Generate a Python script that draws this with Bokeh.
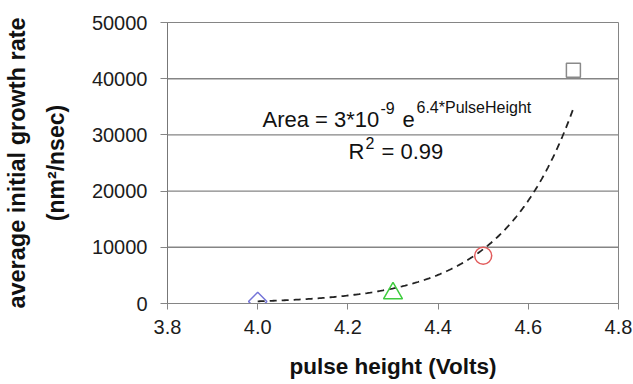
import numpy as np
from bokeh.plotting import figure
from bokeh.models import Range1d, FixedTicker, NumeralTickFormatter, LinearAxis, Label
from bokeh.embed import file_html
from bokeh.resources import INLINE

# Measured points: pulse height (V) vs average initial growth rate (nm^2/nsec)
pulse_height = [4.0, 4.3, 4.5, 4.7]
growth_rate = [350, 1800, 8500, 41500]
marker_shapes = ["diamond", "triangle", "circle", "square"]
marker_colors = ["#7474d8", "#3fcc3f", "#e25c5c", "#8a8a8a"]

# Exponential fit: Area = 3e-9 * exp(6.4 * PulseHeight), R^2 = 0.99
fit_coef = 3e-9
fit_exp = 6.4
fit_r2 = 0.99

x_ticks = [3.8, 4.0, 4.2, 4.4, 4.6, 4.8]
y_ticks = [0, 10000, 20000, 30000, 40000, 50000]

W, H = 633, 384
LEFT, RIGHT, TOP, BOTTOM = 167, 618, 22, 303
FONT = "Liberation Sans"
GRID = "#858585"
TEXT = "#1c1c1c"

p = figure(width=W, height=H, output_backend="svg", toolbar_location=None,
           x_range=Range1d(x_ticks[0], x_ticks[-1]),
           y_range=Range1d(y_ticks[0], y_ticks[-1]),
           min_border_left=LEFT, min_border_right=W - RIGHT,
           min_border_top=TOP, min_border_bottom=H - BOTTOM)
p.background_fill_color = "white"
p.border_fill_color = "white"
p.outline_line_color = GRID
p.outline_line_width = 1

p.xgrid.visible = False
p.ygrid.visible = False

x0, x1 = x_ticks[0], x_ticks[-1]
# horizontal rules at the inner y ticks
inner = y_ticks[1:-1]
p.multi_line([[x0, x1] for _ in inner], [[t, t] for t in inner],
             line_color=GRID, line_width=1.4)

# x axis
xa = p.xaxis[0]
xa.ticker = FixedTicker(ticks=x_ticks)
xa.formatter = NumeralTickFormatter(format="0.0")
xa.axis_line_color = GRID
xa.major_tick_line_color = GRID
xa.major_tick_in = 0
xa.major_tick_out = 6
xa.minor_tick_line_color = None
xa.major_label_standoff = 10
xa.major_label_text_font = FONT
xa.major_label_text_font_size = "20px"
xa.major_label_text_color = TEXT
xa.axis_label = "pulse height (Volts)"
xa.axis_label_text_font = FONT
xa.axis_label_text_font_style = "bold"
xa.axis_label_text_font_size = "22.5px"
xa.axis_label_text_color = "#111111"
xa.axis_label_standoff = 17

# y axis (inner line of the title)
ya = p.yaxis[0]
ya.ticker = FixedTicker(ticks=y_ticks)
ya.formatter = NumeralTickFormatter(format="0")
ya.axis_line_color = "#777777"
ya.major_tick_line_color = GRID
ya.major_tick_in = 0
ya.major_tick_out = 7
ya.minor_tick_line_color = None
ya.major_label_standoff = 13
ya.major_label_text_font = FONT
ya.major_label_text_font_size = "20px"
ya.major_label_text_color = TEXT
ya.axis_label = "(nm\u00b2/nsec)"
ya.axis_label_text_font = FONT
ya.axis_label_text_font_style = "bold"
ya.axis_label_text_font_size = "23px"
ya.axis_label_text_color = "#111111"
ya.axis_label_standoff = 20

# outer line of the y title, carried by a bare axis
ya2 = LinearAxis(ticker=FixedTicker(ticks=[]), axis_line_color=None,
                 major_tick_line_color=None, minor_tick_line_color=None,
                 major_tick_out=0, major_label_text_font_size="0px",
                 axis_label="average initial growth rate",
                 axis_label_text_font=FONT, axis_label_text_font_style="bold",
                 axis_label_text_font_size="23.5px", axis_label_text_color="#111111",
                 axis_label_standoff=10)
p.add_layout(ya2, "left")

# fitted curve
fx = np.linspace(pulse_height[0], pulse_height[-1], 200)
fy = fit_coef * np.exp(fit_exp * fx)
p.line(fx, fy, line_color="#222222", line_width=1.8, line_dash="7 5")

# data markers
for xv, yv, shape, col in zip(pulse_height, growth_rate, marker_shapes, marker_colors):
    if shape == "diamond":
        p.scatter([xv], [yv], marker="square", angle=np.pi / 4, size=13,
                  fill_color=None, line_color=col, line_width=1.5)
    elif shape == "triangle":
        p.scatter([xv], [yv], marker="triangle", size=19,
                  fill_color=None, line_color=col, line_width=1.5)
    elif shape == "circle":
        p.scatter([xv], [yv], marker="circle", size=17,
                  fill_color=None, line_color=col, line_width=1.5)
    else:
        p.scatter([xv], [yv], marker="square", size=14,
                  fill_color=None, line_color=col, line_width=1.5)


def to_data(px, py):
    """Canvas pixel position -> data coordinates."""
    y0, y1 = y_ticks[0], y_ticks[-1]
    return (x0 + (px - LEFT) / (RIGHT - LEFT) * (x1 - x0),
            y0 + (BOTTOM - py) / (BOTTOM - TOP) * (y1 - y0))


def add_text(txt, px, baseline, size):
    # anchor on the middle of the em box so the glyph baseline lands at `baseline`
    x, y = to_data(px, baseline - 0.3465 * size)
    p.add_layout(Label(x=x, y=y, text=txt, text_font=FONT,
                       text_font_size="%gpx" % size, text_color="#111111",
                       text_align="left", text_baseline="middle"))


# fit equation with superscripts
add_text("Area = 3*10", 262, 126.7, 22)
add_text("-9", 380, 113, 16)
add_text("e", 402, 126.7, 22)
add_text("6.4*PulseHeight", 416, 113, 16)
add_text("R", 348, 159, 22)
add_text("2", 365, 148.5, 16)
add_text("= %.2f" % fit_r2, 381, 159, 22)

open("out.html", "w").write(file_html(p, INLINE))
